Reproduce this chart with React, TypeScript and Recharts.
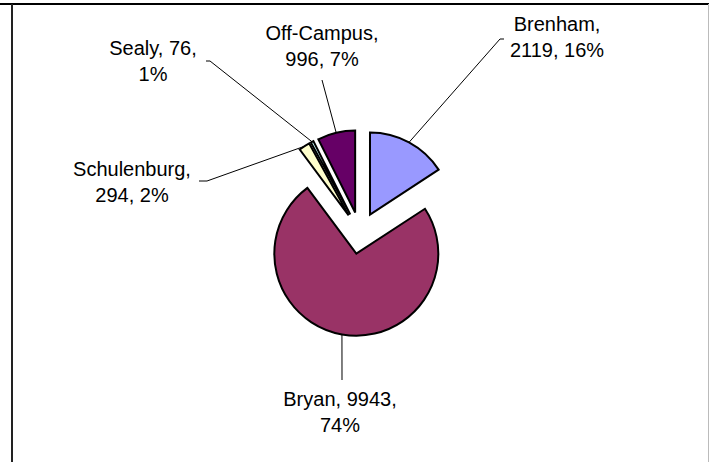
import { PieChart, Pie, Cell } from "recharts"

const campuses = ["Brenham", "Bryan", "Schulenburg", "Sealy", "Off-Campus"]
const students = [2119, 9943, 294, 76, 996]
const sliceColors = ["#9999FF", "#993366", "#FFFFCC", "#CCFFFF", "#660066"]
// how many words of each label sit on its first line
const firstLineWords = [1, 2, 1, 2, 1]

// where each label text sits, and where its leader line stops
const labelSpots = [
  { x: 557, y: 31, lx: 500, ly: 39, tick: 4 },
  { x: 340, y: 406, lx: 342, ly: 380, tick: 0 },
  { x: 132, y: 176, lx: 207, ly: 181, tick: -8 },
  { x: 153, y: 55, lx: 210, ly: 61, tick: -4 },
  { x: 322, y: 40, lx: 322, ly: 80, tick: 0 },
]

const data = campuses.map((name, i) => ({ name, value: students[i] }))
const total = students.reduce((a, b) => a + b, 0)

const CX = 360
const CY = 233
const RADIUS = 82
const EXPLODE = 21
const RAD = Math.PI / 180
const LINE_GAP = 26

function midAngleCw(i: number) {
  const before = students.slice(0, i).reduce((a, b) => a + b, 0)
  return ((before + students[i] / 2) / total) * 360
}

function makeLabel(slice: number) {
  return (props: any) => {
    const { cx, cy, midAngle, outerRadius, index, percent } = props
    if (index !== slice) return null
    const sx = cx + outerRadius * Math.cos(-midAngle * RAD)
    const sy = cy + outerRadius * Math.sin(-midAngle * RAD)
    const spot = labelSpots[index]
    const words = [`${campuses[index]},`, `${students[index]},`, `${Math.round(percent * 100)}%`]
    const line1 = words.slice(0, firstLineWords[index]).join(" ")
    const line2 = words.slice(firstLineWords[index]).join(" ")
    return (
      <g>
        <polyline
          points={`${sx},${sy} ${spot.lx},${spot.ly} ${spot.lx + spot.tick},${spot.ly}`}
          fill="none"
          stroke="#000"
          strokeWidth={1}
        />
        <text x={spot.x} y={spot.y} textAnchor="middle" fill="#000" fontSize={20} fontFamily="'Liberation Sans', Arial, sans-serif">
          <tspan x={spot.x}>{line1}</tspan>
          <tspan x={spot.x} dy={LINE_GAP}>{line2}</tspan>
        </text>
      </g>
    )
  }
}

export default function App() {
  return (
    <div style={{ position: "absolute", left: 0, top: 0, width: 710, height: 462, background: "#fff" }}>
      <div style={{ position: "absolute", left: 0, top: 3, width: 709, height: 2, background: "#000" }} />
      <div style={{ position: "absolute", left: 11, top: 4, width: 2, height: 458, background: "#222" }} />
      <div style={{ position: "absolute", left: 708, top: 4, width: 1, height: 458, background: "#bbb" }} />
      <PieChart width={710} height={462} margin={{ top: 0, right: 0, bottom: 0, left: 0 }}>
        {data.map((d, slice) => {
          const mid = midAngleCw(slice) * RAD
          return (
            <Pie
              key={d.name}
              data={data}
              dataKey="value"
              nameKey="name"
              cx={CX + EXPLODE * Math.sin(mid)}
              cy={CY - EXPLODE * Math.cos(mid)}
              outerRadius={RADIUS}
              startAngle={90}
              endAngle={-270}
              isAnimationActive={false}
              labelLine={false}
              label={makeLabel(slice)}
            >
              {data.map((entry, i) => (
                <Cell
                  key={`cell-${i}`}
                  fill={i === slice ? sliceColors[i] : "none"}
                  stroke={i === slice ? "#000" : "none"}
                  strokeWidth={2}
                />
              ))}
            </Pie>
          )
        })}
      </PieChart>
    </div>
  )
}
